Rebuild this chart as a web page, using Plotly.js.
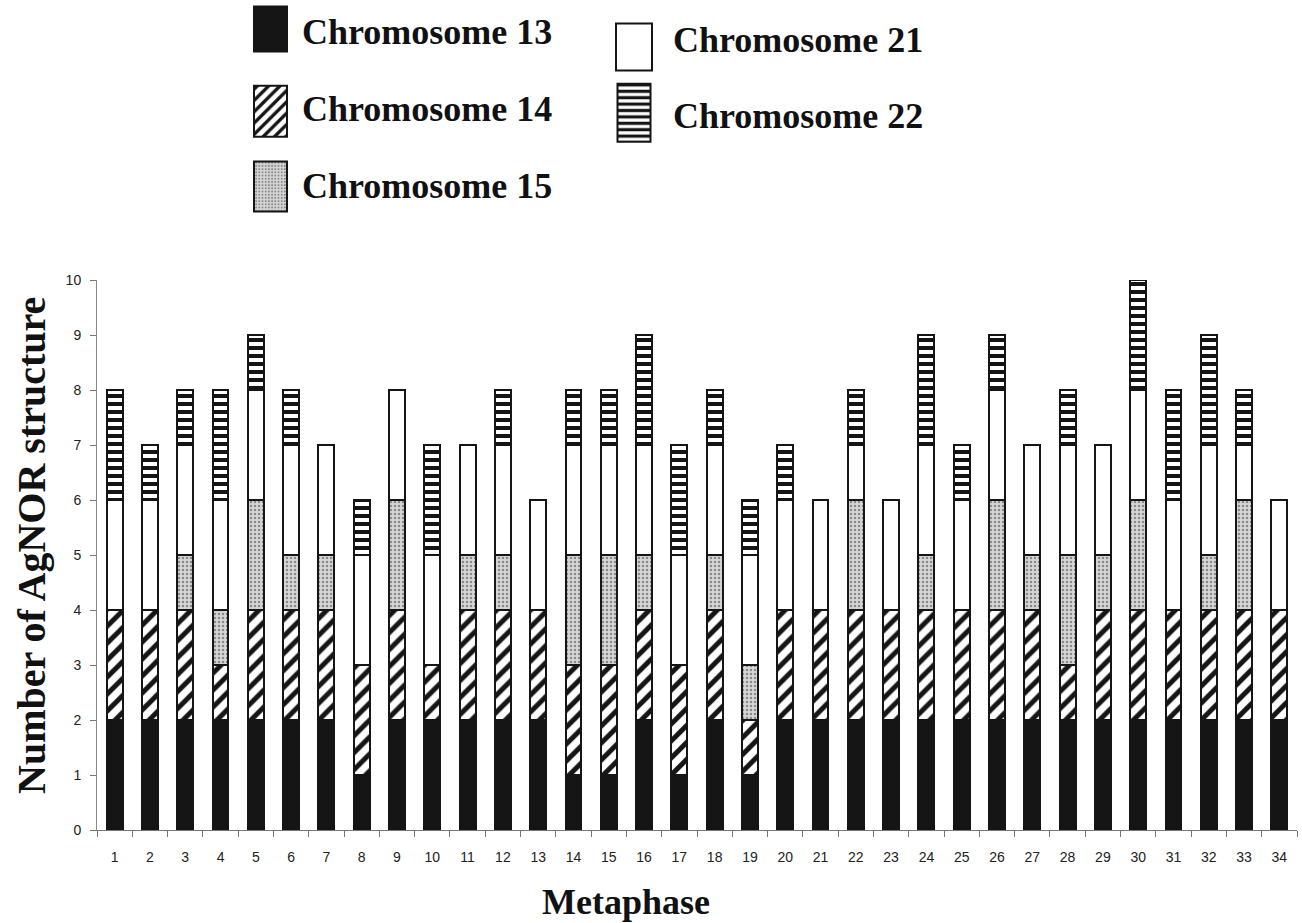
<!DOCTYPE html>
<html>
<head>
<meta charset="utf-8">
<script src="https://cdn.plot.ly/plotly-3.0.1.min.js"></script>
<style>html,body{margin:0;padding:0;background:#fff;}#chart{width:1302px;height:923px;}</style>
</head>
<body>
<div id="chart"></div>
<script>
const metaphase = ['1','2','3','4','5','6','7','8','9','10','11','12','13','14','15','16','17','18','19','20','21','22','23','24','25','26','27','28','29','30','31','32','33','34'];
const chr13 = [2,2,2,2,2,2,2,1,2,2,2,2,2,1,1,2,1,2,1,2,2,2,2,2,2,2,2,2,2,2,2,2,2,2];
const chr14 = [2,2,2,1,2,2,2,2,2,1,2,2,2,2,2,2,2,2,1,2,2,2,2,2,2,2,2,1,2,2,2,2,2,2];
const chr15 = [0,0,1,1,2,1,1,0,2,0,1,1,0,2,2,1,0,1,1,0,0,2,0,1,0,2,1,2,1,2,0,1,2,0];
const chr21 = [2,2,2,2,2,2,2,2,2,2,2,2,2,2,2,2,2,2,2,2,2,1,2,2,2,2,2,2,2,2,2,2,1,2];
const chr22 = [2,1,1,2,1,1,0,1,0,2,0,1,0,1,1,2,2,1,1,1,0,1,0,2,1,1,0,1,0,2,2,2,1,0];
const seriesNames = ['Chromosome 13','Chromosome 14','Chromosome 15','Chromosome 21','Chromosome 22'];
const yTickVals = [0,1,2,3,4,5,6,7,8,9,10];

const ink = '#151515';
const outline = {color: ink, width: 2};
function bar(name, y, legendId, marker) {
  return {type:'bar', x: metaphase, y: y, name: name, legend: legendId,
          legendgroup: name, marker: Object.assign({line: outline}, marker),
          hoverinfo:'x+y+name'};
}
const data = [
  bar(seriesNames[0], chr13, 'legend',  {color: ink}),
  bar(seriesNames[1], chr14, 'legend',  {color:'#fff', pattern:{shape:'/', fgcolor:ink, bgcolor:'#fff', size:12, solidity:0.42}}),
  bar(seriesNames[2], chr15, 'legend',  {color:'#d0d0d0', pattern:{shape:'.', fgcolor:'#8a8a8a', bgcolor:'#d6d6d6', size:4, solidity:0.3}}),
  bar(seriesNames[3], chr21, 'legend2', {color:'#fff'}),
  bar(seriesNames[4], chr22, 'legend2', {color:'#fff', pattern:{shape:'-', fgcolor:ink, bgcolor:'#fff', size:8, solidity:0.5}})
];

const serif = 'Liberation Serif, Times New Roman, serif';
const sans = 'Liberation Sans, Arial, sans-serif';
const legendFont = {family:serif, size:36, color:'#111', weight:'bold'};
const layout = {
  width:1302, height:923,
  margin:{l:97, r:5, t:280, b:93, autoexpand:false},
  paper_bgcolor:'#fff', plot_bgcolor:'#fff',
  barmode:'stack', bargap:0.55,
  showlegend:true,
  legend:{xref:'container', yref:'container', x:239/1302, y:1, xanchor:'left', yanchor:'top',
          font:legendFont, bgcolor:'rgba(0,0,0,0)', traceorder:'grouped', tracegroupgap:27, itemwidth:53,
          itemclick:false, itemdoubleclick:false},
  legend2:{xref:'container', yref:'container', x:595/1302, y:1-8/923, xanchor:'left', yanchor:'top',
          font:legendFont, bgcolor:'rgba(0,0,0,0)', traceorder:'grouped', tracegroupgap:26, itemwidth:68,
          itemclick:false, itemdoubleclick:false},
  xaxis:{type:'category', tickson:'boundaries', ticks:'outside', ticklen:6, tickcolor:'#777',
         ticklabelstandoff:14,
         showline:true, linecolor:'#777', linewidth:1, showgrid:false, zeroline:false,
         tickfont:{family:sans, size:14, color:'#222'}},
  yaxis:{range:[0,10], tickvals:yTickVals, ticks:'outside', ticklen:6, tickcolor:'#777',
         ticklabelstandoff:6,
         showline:true, linecolor:'#888', linewidth:1, showgrid:false, zeroline:false,
         tickfont:{family:sans, size:14, color:'#222'}},
  annotations:[
    {text:'Number of AgNOR structure', textangle:-90, xref:'paper', yref:'paper',
     x:(31-97)/1200, y:(830-546)/550, xanchor:'center', yanchor:'middle', showarrow:false, borderpad:0,
     font:{family:serif, size:40, color:'#111', weight:'bold'}},
    {text:'Metaphase', xref:'paper', yref:'paper', x:(626-97)/1200, y:-(923-830)/550,
     xanchor:'center', yanchor:'bottom', showarrow:false, borderpad:0,
     font:{family:serif, size:36, color:'#111', weight:'bold'}}]
};

// legend swatch geometry: [dy, width, height]
const swatchBox = {
  'Chromosome 13': [-1, 33, 45],
  'Chromosome 14': [4.5, 33, 51],
  'Chromosome 15': [3, 33, 50],
  'Chromosome 21': [9, 36, 47],
  'Chromosome 22': [-1, 33, 58]
};
function enlargeSwatches(){
  document.querySelectorAll('g.scrollbox').forEach(function(g){ g.removeAttribute('clip-path'); });
  document.querySelectorAll('g.legendpoints path').forEach(function(p){
    var d = p.__data__, nm = d && d[0] && d[0].trace ? d[0].trace.name : null;
    var b = swatchBox[nm] || [0,30,46];
    var x0 = -b[1]/2, x1 = b[1]/2, y0 = b[0] - b[2]/2, y1 = b[0] + b[2]/2;
    p.setAttribute('d','M'+x1+','+y1+'H'+x0+'V'+y0+'H'+x1+'Z');
  });
}
Plotly.newPlot('chart', data, layout, {displayModeBar:false}).then(function(gd){
  enlargeSwatches();
  gd.on('plotly_afterplot', enlargeSwatches);
  setTimeout(enlargeSwatches, 50);
  setTimeout(enlargeSwatches, 300);
});
</script>
</body>
</html>
